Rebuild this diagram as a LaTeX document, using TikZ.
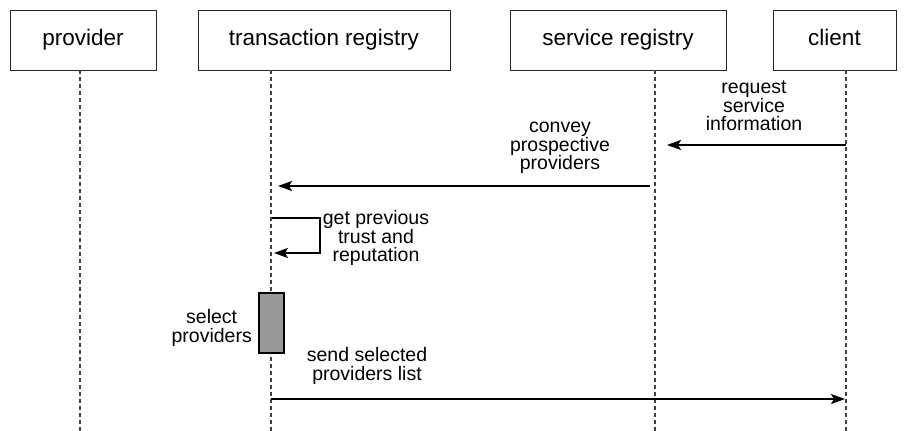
\documentclass[tikz,border=0pt]{standalone}
\usepackage{fontspec}
\setmainfont{Liberation Sans}
\usetikzlibrary{arrows.meta}
\begin{document}
\begin{tikzpicture}[x=1pt,y=-1pt,
  actor/.style={draw=black!85,line width=0.9pt,minimum height=60pt,inner sep=0pt,
                text height=16pt,text depth=5pt,
                font=\fontsize{22.5}{24}\selectfont},
  lifeline/.style={draw=black!75,line width=1.1pt,dash pattern=on 4pt off 3pt},
  msg/.style={draw=black,line width=1.3pt,-{Stealth[length=14pt,width=10pt,inset=3pt]}},
  lbl/.style={align=center,inner sep=0pt,font=\fontsize{19.5}{18.5}\selectfont},
  actbox/.style={draw=black,line width=1.2pt,fill=black!40,minimum width=25pt,minimum height=60pt,inner sep=0pt}]
\useasboundingbox (0,0) rectangle (906,431);

% participants
\node[actor,minimum width=146pt] (prov) at (83,40) {provider};
\node[actor,minimum width=252pt] (trans) at (324,40) {transaction registry};
\node[actor,minimum width=216pt] (serv) at (618,40) {service registry};
\node[actor,minimum width=123pt] (cli) at (834.5,40) {client};

% lifelines
\coordinate (provT) at (80,70);   \coordinate (provB) at (80,431);
\coordinate (transT) at (271,70); \coordinate (transB) at (271,431);
\coordinate (servT) at (655,70);  \coordinate (servB) at (655,431);
\coordinate (cliT) at (846,70);   \coordinate (cliB) at (846,431);
\draw[lifeline] (provT) -- (provB);
\draw[lifeline] (transT) -- (transB);
\draw[lifeline] (servT) -- (servB);
\draw[lifeline] (cliT) -- (cliB);

% request service information
\coordinate (m1a) at (846,145); \coordinate (m1b) at (667,145);
\draw[msg] (m1a) -- (m1b);
\node[lbl] (m1l) at (754,106) {request\\service\\information};

% convey prospective providers
\coordinate (m2a) at (650,186); \coordinate (m2b) at (278,186);
\draw[msg] (m2a) -- (m2b);
\node[lbl] (m2l) at (560,148) {convey\\prospective\\providers};

% get previous trust and reputation (self call)
\coordinate (m3a) at (272,218); \coordinate (m3c) at (320,218);
\coordinate (m3d) at (320,253); \coordinate (m3b) at (274,253);
\draw[msg] (m3a) -- (m3c) -- (m3d) -- (m3b);
\node[lbl] (m3l) at (376,238) {get previous\\trust and\\reputation};

% select providers activation
\node[actbox] (sel) at (271.5,323) {};
\node[lbl,anchor=east] (sell) at (252,328) {select\\providers};

% send selected providers list
\coordinate (m4a) at (271,399); \coordinate (m4b) at (845,399);
\draw[msg] (m4a) -- (m4b);
\node[lbl] (m4l) at (367,366) {send selected\\providers list};
\end{tikzpicture}
\end{document}
